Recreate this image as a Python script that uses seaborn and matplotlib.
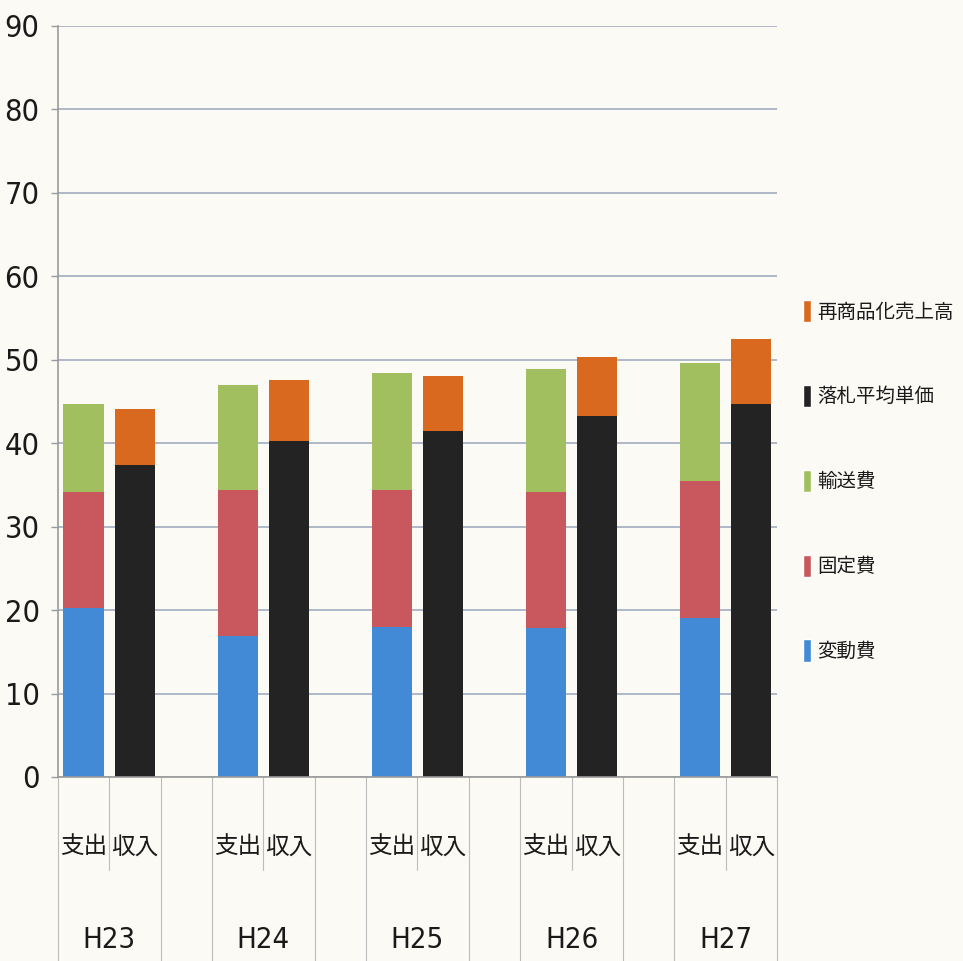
import pandas as pd
import matplotlib.pyplot as plt
import matplotlib.transforms as mtransforms
from matplotlib.patches import Patch
import seaborn as sns

# values
years = ['H23', 'H24', 'H25', 'H26', 'H27']
hendou = [20.3, 16.9, 18.0, 17.9, 19.0]        # 変動費
kotei = [13.9, 17.5, 16.4, 16.2, 16.5]         # 固定費
yusou = [10.5, 12.6, 14.0, 14.8, 14.1]         # 輸送費
rakusatsu = [37.4, 40.3, 41.4, 43.3, 44.7]     # 落札平均単価
saishouhin = [6.7, 7.3, 6.6, 7.0, 7.8]         # 再商品化売上高

kinds = ['支出', '収入']
series_out = ['変動費', '固定費', '輸送費']
series_in = ['落札平均単価', '再商品化売上高']
colors = {
    '変動費': '#4289d6',
    '固定費': '#c9585e',
    '輸送費': '#a2bf5f',
    '落札平均単価': '#232323',
    '再商品化売上高': '#d8691f',
}
legend_order = ['再商品化売上高', '落札平均単価', '輸送費', '固定費', '変動費']

sns.set_theme(style='white')
plt.rcParams['font.family'] = ['Noto Sans CJK JP', 'DejaVu Sans']
latin = dict(family='DejaVu Sans', stretch='condensed')

# long table, one row per stacked segment
rows = []
for i, y in enumerate(years):
    for s, v in zip(series_out, [hendou[i], kotei[i], yusou[i]]):
        rows.append({'year': y, 'kind': '支出', 'series': s, 'value': v})
    for s, v in zip(series_in, [rakusatsu[i], saishouhin[i]]):
        rows.append({'year': y, 'kind': '収入', 'series': s, 'value': v})
df = pd.DataFrame(rows)
df['key'] = df['year'] + df['kind']
df['cum'] = df.groupby('key')['value'].cumsum()

# Excel style multi-level axis: 支出, 収入, then an empty slot between years
order = []
for y in years:
    order += [y + '支出', y + '収入', y + '_']
order = order[:-1]

bg = '#fbfaf5'
fig = plt.figure(figsize=(9.63, 9.61), dpi=100, facecolor=bg)
ax = fig.add_axes([0.060, 0.1915, 0.747, 0.7815])
ax.set_facecolor(bg)

# draw the tallest segment first so the lower ones sit on top
for s in series_out[::-1] + series_in[::-1]:
    sub = df[df['series'] == s]
    sns.barplot(data=sub, x='key', y='cum', order=order, color=colors[s],
                saturation=1, width=0.78, linewidth=0, ax=ax)

ax.set_xlim(-0.5, len(order) - 0.5)
ax.set_ylim(0, 90)
ax.set_yticks(range(0, 91, 10))
ax.set_xticks([])
ax.set_xlabel('')
ax.set_ylabel('')
ax.yaxis.grid(True, color='#a9b3c4', linewidth=1.3)
ax.set_axisbelow(True)
for side in ['top', 'right']:
    ax.spines[side].set_visible(False)
for side in ['left', 'bottom']:
    ax.spines[side].set_color('#9a9a9a')
    ax.spines[side].set_linewidth(1.2)
ax.tick_params(axis='y', labelsize=22, length=5, width=1, color='#9a9a9a',
               pad=8, left=True, labelcolor='#1a1a1a')
for t in ax.get_yticklabels():
    t.set_fontfamily('DejaVu Sans')
    t.set_fontstretch('condensed')

# category table under the axis
trans = mtransforms.blended_transform_factory(ax.transData, ax.transAxes)
for i in range(len(order) + 1):
    b = i - 0.5
    low = -0.124 if i % 3 == 1 else -0.26
    ax.plot([b, b], [0, low], transform=trans, color='#bdbdbd', lw=0.8,
            clip_on=False)
for j, y in enumerate(years):
    for k, kind in enumerate(kinds):
        ax.text(3 * j + k, -0.093, kind, transform=trans, ha='center',
                va='center', fontsize=17, color='#1a1a1a')
    ax.text(3 * j + 0.5, -0.217, y, transform=trans, ha='center',
            va='center', fontsize=21, color='#1a1a1a', **latin)

handles = [Patch(facecolor=colors[s], label=s) for s in legend_order]
fig.legend(handles=handles, loc='center left',
           bbox_to_anchor=(0.834, 1 - 481 / 961), frameon=False,
           fontsize=14, labelspacing=3.2, handlelength=0.42,
           handleheight=1.4, handletextpad=0.3, borderpad=0,
           borderaxespad=0, labelcolor='#1a1a1a')

fig.savefig('out.png', dpi=100, facecolor=bg)
